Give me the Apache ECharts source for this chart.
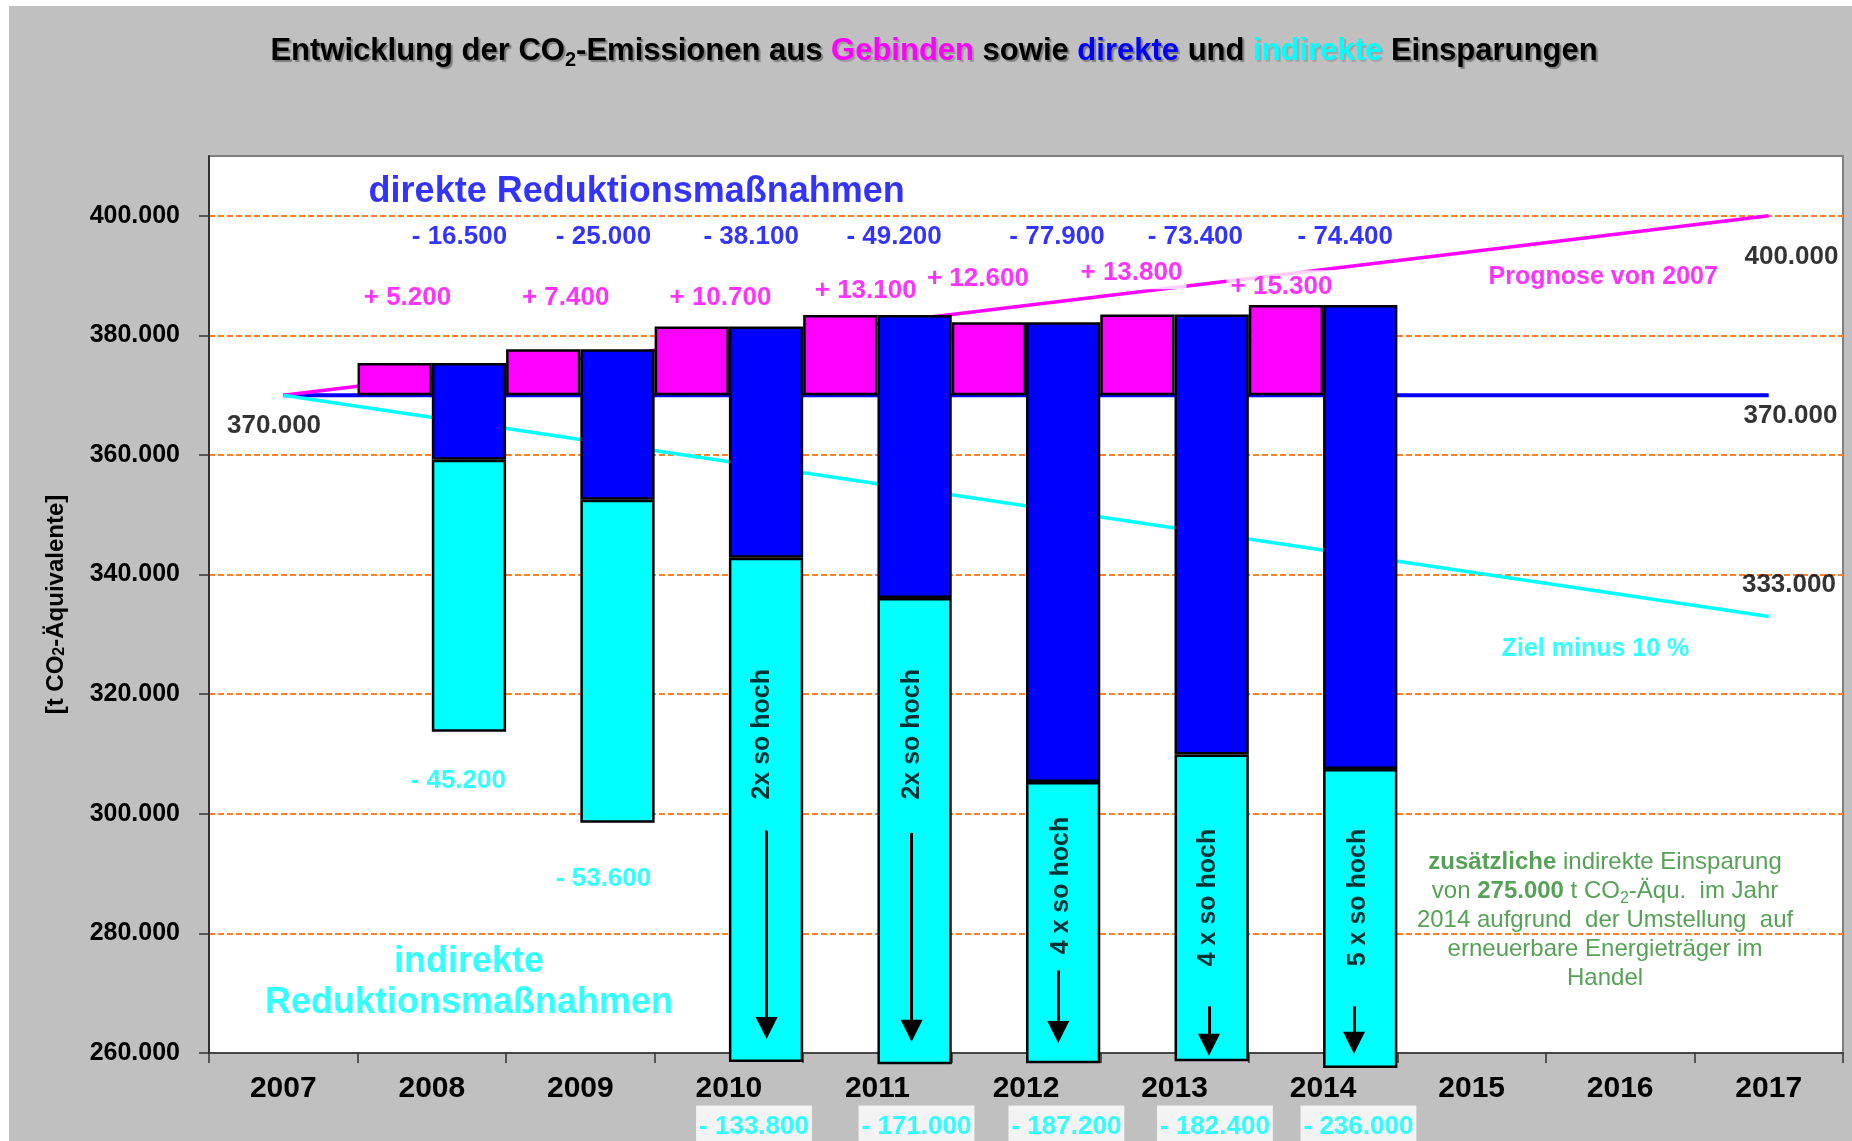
<!DOCTYPE html>
<html>
<head>
<meta charset="utf-8">
<title>Entwicklung der CO2-Emissionen aus Gebinden</title>
<script src="https://cdn.jsdelivr.net/npm/echarts@6/dist/echarts.min.js"></script>
<style>
  html, body { margin: 0; padding: 0; background: #fff; }
  #rahmen { position: absolute; left: 9px; top: 6px; width: 1843px; height: 1135px; background: #c0c0c0; }
  #co2Chart { position: absolute; left: 0; top: 0; width: 1852px; height: 1141px; }
</style>
</head>
<body>
<div id="rahmen"></div>
<div id="co2Chart"></div>
<script>
// Werte
var years = ['2007', '2008', '2009', '2010', '2011', '2012', '2013', '2014', '2015', '2016', '2017'];
var basis = 370000;
var emission     = [null, 375400, 377700, 381500, 383400, 382200, 383500, 385100, null, null, null];
var nachDirekt   = [null, 359200, 352500, 342800, 336100, 305300, 309900, 307500, null, null, null];
var nachIndirekt = [null, 313700, 298500, 258500, 258100, 258300, 258600, 257500, null, null, null];

var basisLinie = [370000, null, null, null, null, null, null, null, null, null, 370000];
var prognose   = [370000, null, null, null, null, null, null, null, null, null, 400000];
var ziel       = [370000, null, null, null, null, null, null, null, null, null, 333000];

var yTicks = [260000, 280000, 300000, 320000, 340000, 360000, 380000, 400000];

var plusText      = ['+ 5.200', '+ 7.400', '+ 10.700', '+ 13.100', '+ 12.600', '+ 13.800', '+ 15.300'];
var direktText    = ['- 16.500', '- 25.000', '- 38.100', '- 49.200', '- 77.900', '- 73.400', '- 74.400'];
var indirektText  = ['- 45.200', '- 53.600', '- 133.800', '- 171.000', '- 187.200', '- 182.400', '- 236.000'];
var faktorText    = ['2x so hoch', '2x so hoch', '4 x so hoch', '4 x so hoch', '5 x so hoch'];

// Lage der Beschriftungen (x in Kategorien, y in t)
var plusPos     = [[0.836, 386200], [1.901, 386200], [2.943, 386200], [3.921, 387400], [4.676, 389400], [5.710, 390400], [6.720, 388200]];
var direktPos   = [[1.186, 396500], [2.156, 396500], [3.150, 396500], [4.112, 396500], [5.209, 396500], [6.140, 396500], [7.149, 396500]];
var indirektPos = [[1.178, 305450], [2.156, 289070], [3.169, 247700], [4.263, 247700], [5.272, 247700], [6.272, 247700], [7.238, 247700]];
var faktorPos   = [[3.221, 313300], [4.231, 313300], [5.233, 288000], [6.227, 286000], [7.237, 286000]];
var pfeile      = [[3.254, 297200, 264200], [4.230, 296800, 263700], [5.217, 273800, 263500], [6.232, 267800, 261400], [7.208, 267800, 261700]];

var font = 'Liberation Sans, Arial, sans-serif';

function tausender(v) {
  return String(Math.round(v / 1000)) + '.000';
}

function labelData(texts, pos) {
  return texts.map(function (t, i) {
    return { name: t, value: pos[i] };
  });
}

var chartDom = document.getElementById('co2Chart');
var myChart = echarts.init(chartDom);
var option;

var rand = { color: '#000', fontSize: 26, fontWeight: 'bold', fontFamily: font };
var titel = { fontSize: 31, fontWeight: 'bold', fontFamily: font, lineHeight: 38, textShadowColor: 'rgba(0,0,0,0.35)', textShadowOffsetX: 2, textShadowOffsetY: 2, textShadowBlur: 1 };

option = {
  animation: false,
  backgroundColor: 'transparent',
  graphic: [
    {
      type: 'text',
      x: 934,
      y: 51,
      z: 10,
      style: {
        text: '{t|Entwicklung der CO}{s|2}{t|-Emissionen aus }{m|Gebinden}{t| sowie }{d|direkte}{t| und }{c|indirekte}{t| Einsparungen}',
        align: 'center',
        verticalAlign: 'middle',
        rich: {
          t: Object.assign({ fill: '#000' }, titel),
          s: { fontSize: 20, fontWeight: 'bold', fontFamily: font, fill: '#000', verticalAlign: 'bottom', lineHeight: 18 },
          m: Object.assign({}, titel, { fill: '#ff00ff', textShadowColor: 'rgba(0,0,0,0.2)' }),
          d: Object.assign({}, titel, { fill: '#0000ff' }),
          c: Object.assign({}, titel, { fill: '#00ffff', textShadowColor: 'rgba(0,0,0,0.15)' })
        }
      }
    }
  ],
  grid: {
    left: 209,
    right: 9,
    top: 156,
    bottom: 88,
    show: true,
    backgroundColor: '#fff',
    borderColor: '#808080',
    borderWidth: 2,
    outerBoundsMode: 'none'
  },
  xAxis: [
    {
      type: 'category',
      data: years,
      axisLine: { onZero: false, lineStyle: { color: '#333', width: 1.5 } },
      axisTick: { show: true, length: 10, lineStyle: { color: '#333', width: 1.5 } },
      axisLabel: { color: '#000', fontSize: 30, fontWeight: 'bold', fontFamily: font, margin: 21 },
      splitLine: { show: false }
    },
    {
      type: 'value',
      min: -0.5,
      max: 10.5,
      show: false
    }
  ],
  yAxis: {
    type: 'value',
    min: 260000,
    max: 410000,
    interval: 20000,
    name: '{a|[t CO}{s|2}{a|-Äquivalente]}',
    nameLocation: 'middle',
    nameGap: 141,
    nameTextStyle: {
      rich: {
        a: { fontSize: 24, fontWeight: 'bold', fontFamily: font, color: '#000' },
        s: { fontSize: 16, fontWeight: 'bold', fontFamily: font, color: '#000', verticalAlign: 'bottom', lineHeight: 14 }
      }
    },
    axisLine: { show: true, onZero: false, lineStyle: { color: '#333', width: 2 } },
    axisTick: { show: true, length: 10, customValues: yTicks, lineStyle: { color: '#333', width: 1.5 } },
    axisLabel: {
      customValues: yTicks,
      color: '#000',
      fontSize: 25,
      fontWeight: 'bold',
      fontFamily: font,
      margin: 29,
      formatter: tausender
    },
    splitLine: {
      show: true,
      showMinLine: false,
      lineStyle: { color: '#ff7f27', width: 2, type: [6, 3] }
    }
  },
  series: [
    // Linien
    {
      name: 'Basis 2007',
      type: 'line',
      data: basisLinie,
      connectNulls: true,
      symbol: 'none',
      silent: true,
      z: 2,
      lineStyle: { color: '#0000ff', width: 4 }
    },
    {
      name: 'Prognose von 2007',
      type: 'line',
      data: prognose,
      connectNulls: true,
      symbol: 'none',
      silent: true,
      z: 2,
      lineStyle: { color: '#ff00ff', width: 3.5 }
    },
    {
      name: 'Ziel minus 10 %',
      type: 'line',
      data: ziel,
      connectNulls: true,
      symbol: 'none',
      silent: true,
      z: 2,
      lineStyle: { color: '#00ffff', width: 3.5 }
    },
    // Gebinde-Zuwachs (schwebend ab 370.000)
    {
      name: 'sockelG',
      type: 'bar',
      stack: 'g',
      silent: true,
      z: 3,
      data: emission.map(function (v) { return v == null ? null : basis; }),
      itemStyle: { color: 'transparent', borderWidth: 0 }
    },
    {
      name: 'Gebinde',
      type: 'bar',
      stack: 'g',
      silent: true,
      z: 3,
      data: emission.map(function (v) { return v == null ? null : v - basis; }),
      itemStyle: { color: '#ff00ff', borderColor: '#000', borderWidth: 2.5 }
    },
    // direkte + indirekte Einsparung
    {
      name: 'sockelR',
      type: 'bar',
      stack: 'r',
      silent: true,
      z: 3,
      data: nachIndirekt,
      itemStyle: { color: 'transparent', borderWidth: 0 }
    },
    {
      name: 'indirekt',
      type: 'bar',
      stack: 'r',
      silent: true,
      clip: false,
      z: 3,
      data: nachDirekt.map(function (v, i) { return v == null ? null : v - nachIndirekt[i]; }),
      itemStyle: { color: '#00ffff', borderColor: '#000', borderWidth: 2.5 }
    },
    {
      name: 'direkt',
      type: 'bar',
      stack: 'r',
      silent: true,
      z: 3,
      barGap: '0%',
      barCategoryGap: '0%',
      data: emission.map(function (v, i) { return v == null ? null : v - nachDirekt[i]; }),
      itemStyle: { color: '#0000ff', borderColor: '#000', borderWidth: 2.5 }
    },
    // Beschriftungen
    {
      name: 'plusWerte',
      type: 'scatter',
      xAxisIndex: 1,
      symbolSize: 0,
      silent: true,
      clip: false,
      z: 4,
      data: labelData(plusText, plusPos),
      label: { show: true, position: 'inside', formatter: '{b}', color: '#ff00ff', fontSize: 26, fontWeight: 'bold', fontFamily: font, backgroundColor: '#fff', padding: [3, 4] }
    },
    {
      name: 'direktWerte',
      type: 'scatter',
      xAxisIndex: 1,
      symbolSize: 0,
      silent: true,
      clip: false,
      z: 4,
      data: labelData(direktText, direktPos),
      label: { show: true, position: 'inside', formatter: '{b}', color: '#0000ff', fontSize: 26, fontWeight: 'bold', fontFamily: font, backgroundColor: '#fff', padding: [3, 4] }
    },
    {
      name: 'indirektWerte',
      type: 'scatter',
      xAxisIndex: 1,
      symbolSize: 0,
      silent: true,
      clip: false,
      z: 4,
      data: labelData(indirektText, indirektPos),
      label: { show: true, position: 'inside', formatter: '{b}', color: '#00ffff', fontSize: 26, fontWeight: 'bold', fontFamily: font, backgroundColor: '#fff', padding: [4, 3, 12, 3] }
    },
    {
      name: 'faktor',
      type: 'scatter',
      xAxisIndex: 1,
      symbolSize: 0,
      silent: true,
      clip: false,
      z: 4,
      data: labelData(faktorText, faktorPos),
      label: { show: true, position: 'inside', rotate: 90, formatter: '{b}', color: '#000', fontSize: 25, fontWeight: 'bold', fontFamily: font },
      markLine: {
        silent: true,
        symbol: ['none', 'triangle'],
        symbolSize: 22,
        label: { show: false },
        itemStyle: { color: '#000' },
        lineStyle: { color: '#000', width: 3, type: 'solid' },
        data: pfeile.map(function (p) {
          return [{ coord: [p[0], p[1]] }, { coord: [p[0], p[2]] }];
        })
      }
    },
    {
      name: 'notizen',
      type: 'scatter',
      xAxisIndex: 1,
      symbolSize: 0,
      silent: true,
      clip: false,
      z: 4,
      label: { show: true, position: 'inside', formatter: '{b}', fontWeight: 'bold', fontFamily: font },
      data: [
        { name: '370.000', value: [-0.062, 364930], label: rand },
        { name: '400.000', value: [10.153, 393150], label: rand },
        { name: '370.000', value: [10.146, 366500], label: rand },
        { name: '333.000', value: [10.136, 338300], label: rand },
        { name: 'Prognose von 2007', value: [8.886, 389800], label: { color: '#ff00ff', fontSize: 25 } },
        { name: 'Ziel minus 10 %', value: [8.834, 327600], label: { color: '#00ffff', fontSize: 25 } },
        { name: 'direkte Reduktionsmaßnahmen', value: [2.379, 404000], label: { color: '#0000ff', fontSize: 36 } },
        { name: 'indirekte\nReduktionsmaßnahmen', value: [1.250, 271700], label: { color: '#00ffff', fontSize: 36, lineHeight: 41 } },
        {
          name: 'Hinweis',
          value: [8.898, 282100],
          label: {
            align: 'center',
            formatter: '{gb|zusätzliche}{g| indirekte Einsparung}\n{g|von }{gb|275.000}{g| t CO}{gs|2}{g|-Äqu.  im Jahr}\n{g|2014 aufgrund  der Umstellung  auf}\n{g|erneuerbare Energieträger im}\n{g|Handel}',
            rich: {
              g: { color: '#2a8a2a', fontSize: 24, fontWeight: 'normal', fontFamily: font, lineHeight: 29 },
              gb: { color: '#2a8a2a', fontSize: 24, fontWeight: 'bold', fontFamily: font, lineHeight: 29 },
              gs: { color: '#2a8a2a', fontSize: 16, fontWeight: 'normal', fontFamily: font, verticalAlign: 'bottom', lineHeight: 14 }
            }
          }
        }
      ]
    }
  ]
};

myChart.setOption(option);
</script>
</body>
</html>
